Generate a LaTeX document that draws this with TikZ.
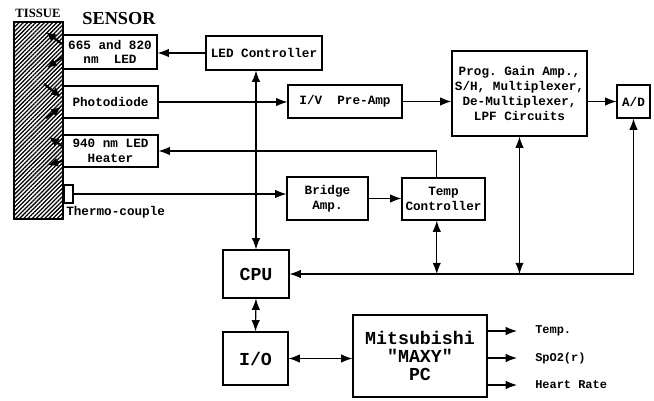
\documentclass[tikz,border=0pt]{standalone}
\usepackage{fontspec}
\setmainfont{Liberation Serif}
\setmonofont{Liberation Mono}
\usetikzlibrary{arrows.meta,patterns.meta,calc}

\begin{document}
\begin{tikzpicture}[x=0.025cm,y=-0.025cm,
  box/.style={draw,line width=0.8pt,align=center,inner sep=1pt,
    font=\ttfamily\bfseries\fontsize{9}{10.5}\selectfont},
  bigbox/.style={box,font=\ttfamily\bfseries\fontsize{13}{12.5}\selectfont},
  outlbl/.style={anchor=west,inner sep=0pt,font=\ttfamily\bfseries\fontsize{8.5}{9}\selectfont},
  arr/.style={line width=0.8pt,-{Latex[length=8pt,width=6pt]}},
  darr/.style={line width=0.8pt,{Latex[length=8pt,width=6pt]}-{Latex[length=8pt,width=6pt]}},
  ray/.style={line width=1.5pt,-{Latex[length=7pt,width=6.5pt]}}]
  \useasboundingbox (0,0) rectangle (654,401);
  % tissue and sensor side
  \draw[line width=0.8pt,pattern={Lines[angle=45,distance=2.1pt,line width=0.9pt]}] (14,22) rectangle (63,219);
  \node[font=\bfseries\fontsize{9}{9}\selectfont] (tissue) at (38,13) {TISSUE};
  \node[font=\bfseries\fontsize{13}{13}\selectfont] (sensor) at (119,19) {SENSOR};
  \node[box,minimum width=2.35cm,minimum height=0.85cm] (led) at (110,52) {665 and 820\\nm\ \ LED};
  \node[box,minimum width=2.375cm,minimum height=0.8cm] (photo) at (110.5,102) {Photodiode};
  \node[box,minimum width=2.375cm,minimum height=0.8cm] (heater) at (110.5,151) {940 nm LED\\Heater};
  \node[draw,line width=0.8pt,minimum width=0.225cm,minimum height=0.45cm,inner sep=0pt] (thermo) at (68.5,194) {};
  \node[anchor=west,inner sep=0pt,font=\ttfamily\bfseries\fontsize{9}{9}\selectfont] (thlabel) at (66,212) {Thermo-couple};
  % light paths in the tissue
  \draw[ray] (62,44) -- (46,32);
  \draw[ray] (62,57) -- (47,68);
  \draw[ray] (44,84) -- (61,97);
  \draw[ray] (46,118) -- (61,107);
  \draw[ray] (62,146) -- (49,137);
  \draw[ray] (62,161) -- (48,165);
  % electronics
  \node[box,minimum width=2.9cm,minimum height=0.85cm] (ledctrl) at (264,53) {LED Controller};
  \node[box,minimum width=2.85cm,minimum height=0.825cm] (preamp) at (345,101.5) {I/V\ \ Pre-Amp};
  \node[box,minimum width=3.375cm,minimum height=2.125cm] (prog) at (519.5,93.5) {Prog. Gain Amp.,\\S/H, Multiplexer,\\De-Multiplexer,\\LPF Circuits};
  \node[box,minimum width=0.825cm,minimum height=0.825cm] (ad) at (633.5,101.5) {A/D};
  \node[box,minimum width=2.025cm,minimum height=1.075cm] (bridge) at (327.5,198.5) {Bridge\\Amp.};
  \node[box,minimum width=2.075cm,minimum height=1.05cm] (temp) at (443.5,199) {Temp\\Controller};
  \node[bigbox,minimum width=1.65cm,minimum height=1.2cm] (cpu) at (256,274) {CPU};
  \node[bigbox,minimum width=1.625cm,minimum height=1.325cm] (io) at (255.5,358.5) {I/O};
  \node[bigbox,minimum width=3.35cm,minimum height=2.05cm] (pc) at (420,356) {Mitsubishi\\"MAXY"\\PC};
  \node[outlbl] (outT) at (535,331) {Temp.};
  \node[outlbl] (outS) at (535,358) {SpO2(r)};
  \node[outlbl] (outH) at (535,385) {Heart Rate};
  \coordinate (tt) at ($(temp.north west)!0.42!(temp.north east)$);
  \coordinate (tb) at ($(temp.south west)!0.42!(temp.south east)$);
  % connections
  \draw[arr] (ledctrl.west) -- (ledctrl.west -| led.east);
  \draw[arr] (photo.east) -- (photo.east -| preamp.west);
  \draw[arr] (preamp.east) -- (preamp.east -| prog.west);
  \draw[arr] (ad.west -| prog.east) -- (ad.west);
  \draw[arr] (tt) |- (heater.east);
  \draw[arr] (thermo.east) -- (thermo.east -| bridge.west);
  \draw[arr] (bridge.east) -- (bridge.east -| temp.west);
  \draw[darr] (ledctrl.south -| cpu.north) -- (cpu.north);
  \draw[darr] (ad.south) |- (cpu.east);
  \draw[darr] (prog.south) -- (prog.south |- cpu.east);
  \draw[darr] (tb) -- (tb |- cpu.east);
  \draw[darr] (cpu.south) -- (io.north);
  \draw[darr] (io.east) -- (io.east -| pc.west);
  \draw[arr,shorten >=0.45cm] (outT.west -| pc.east) -- (outT.west);
  \draw[arr,shorten >=0.45cm] (outS.west -| pc.east) -- (outS.west);
  \draw[arr,shorten >=0.45cm] (outH.west -| pc.east) -- (outH.west);
\end{tikzpicture}
\end{document}
